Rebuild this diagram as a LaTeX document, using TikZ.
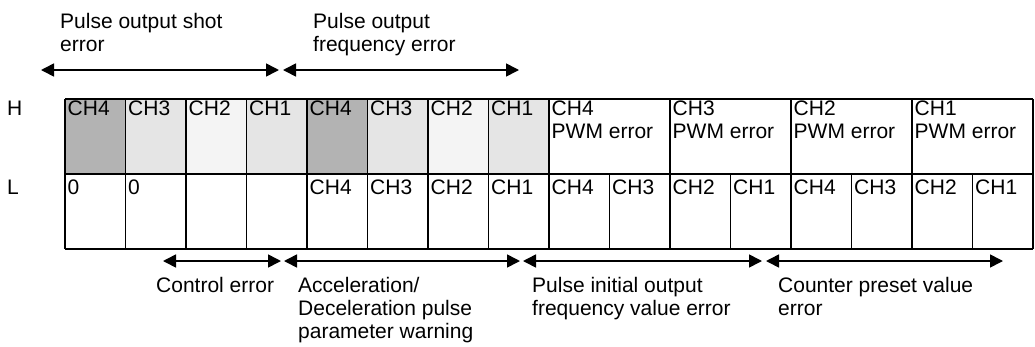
\documentclass[tikz,border=0pt]{standalone}
\usepackage{fontspec}
\setmainfont{Liberation Sans}
\usetikzlibrary{arrows.meta}
\definecolor{gfour}{HTML}{B3B3B3}
\definecolor{gthree}{HTML}{E5E5E5}
\definecolor{gtwo}{HTML}{F4F4F4}
\definecolor{gone}{HTML}{E5E5E5}
\begin{document}
\begin{tikzpicture}[x=1pt,y=-1pt,
  txt/.style={font=\fontsize{21}{23}\selectfont, inner sep=0pt, anchor=base west},
  gridline/.style={draw=black, line width=1.4pt},
  dimarrow/.style={{Triangle[length=13pt,width=13pt]}-{Triangle[length=13pt,width=13pt]}, line width=1.6pt},
]
\useasboundingbox (0,0) rectangle (1035,346);
\def\cw{60.5}
% fills of the H row
\foreach \i/\c in {0/gfour,1/gthree,2/gtwo,3/gone,4/gfour,5/gthree,6/gtwo,7/gone}
  \fill[\c] ({65+\i*\cw},99) rectangle ++(\cw,75);
% grid
\draw[gridline] (65,99) -- (1033,99);
\draw[gridline] (65,174) -- (1033,174);
\draw[gridline] (65,249) -- (1033,249);
\foreach \i in {0,...,8,10,12,14,16}
  \draw[gridline] ({65+\i*\cw},99) -- ({65+\i*\cw},249);
\foreach \i in {9,11,13,15}
  \draw[gridline] ({65+\i*\cw},174) -- ({65+\i*\cw},249);
% row labels
\node[txt] (rowH) at (7,115) {H};
\node[txt] (rowL) at (7,194) {L};
% H row texts
\foreach \i/\t in {0/CH4,1/CH3,2/CH2,3/CH1,4/CH4,5/CH3,6/CH2,7/CH1}
  \node[txt] (h\i) at ({67.5+\i*\cw},115) {\t};
\foreach \i/\t in {8/CH4,10/CH3,12/CH2,14/CH1}{
  \node[txt] (p\i) at ({67.5+\i*\cw},115) {\t};
  \node[txt] (q\i) at ({67.5+\i*\cw},138) {PWM error};
}
% L row texts
\foreach \i/\t in {0/0,1/0,4/CH4,5/CH3,6/CH2,7/CH1,8/CH4,9/CH3,10/CH2,11/CH1,12/CH4,13/CH3,14/CH2,15/CH1}
  \node[txt] (l\i) at ({67.5+\i*\cw},194) {\t};
% top labels
\node[txt] (ta1) at (60,28) {Pulse output shot};
\node[txt] (ta2) at (60,51) {error};
\node[txt] (tb1) at (313,28) {Pulse output};
\node[txt] (tb2) at (313,51) {frequency error};
% bottom labels
\node[txt] (ba1) at (156,292) {Control error};
\node[txt] (bb1) at (298,292) {Acceleration/};
\node[txt] (bb2) at (298,315) {Deceleration pulse};
\node[txt] (bb3) at (298,338) {parameter warning};
\node[txt] (bc1) at (532,292) {Pulse initial output};
\node[txt] (bc2) at (532,315) {frequency value error};
\node[txt] (bd1) at (778,292) {Counter preset value};
\node[txt] (bd2) at (778,315) {error};
% arrow end points
\coordinate (t1a) at (41,70);  \coordinate (t1b) at (279,70);
\coordinate (t2a) at (283,70); \coordinate (t2b) at (519,70);
\coordinate (b1a) at (163,261); \coordinate (b1b) at (281,261);
\coordinate (b2a) at (284,261); \coordinate (b2b) at (520,261);
\coordinate (b3a) at (523,261); \coordinate (b3b) at (762,261);
\coordinate (b4a) at (766,261); \coordinate (b4b) at (1003,261);
\draw[dimarrow] (t1a) -- (t1b);
\draw[dimarrow] (t2a) -- (t2b);
\draw[dimarrow] (b1a) -- (b1b);
\draw[dimarrow] (b2a) -- (b2b);
\draw[dimarrow] (b3a) -- (b3b);
\draw[dimarrow] (b4a) -- (b4b);
\end{tikzpicture}
\end{document}
